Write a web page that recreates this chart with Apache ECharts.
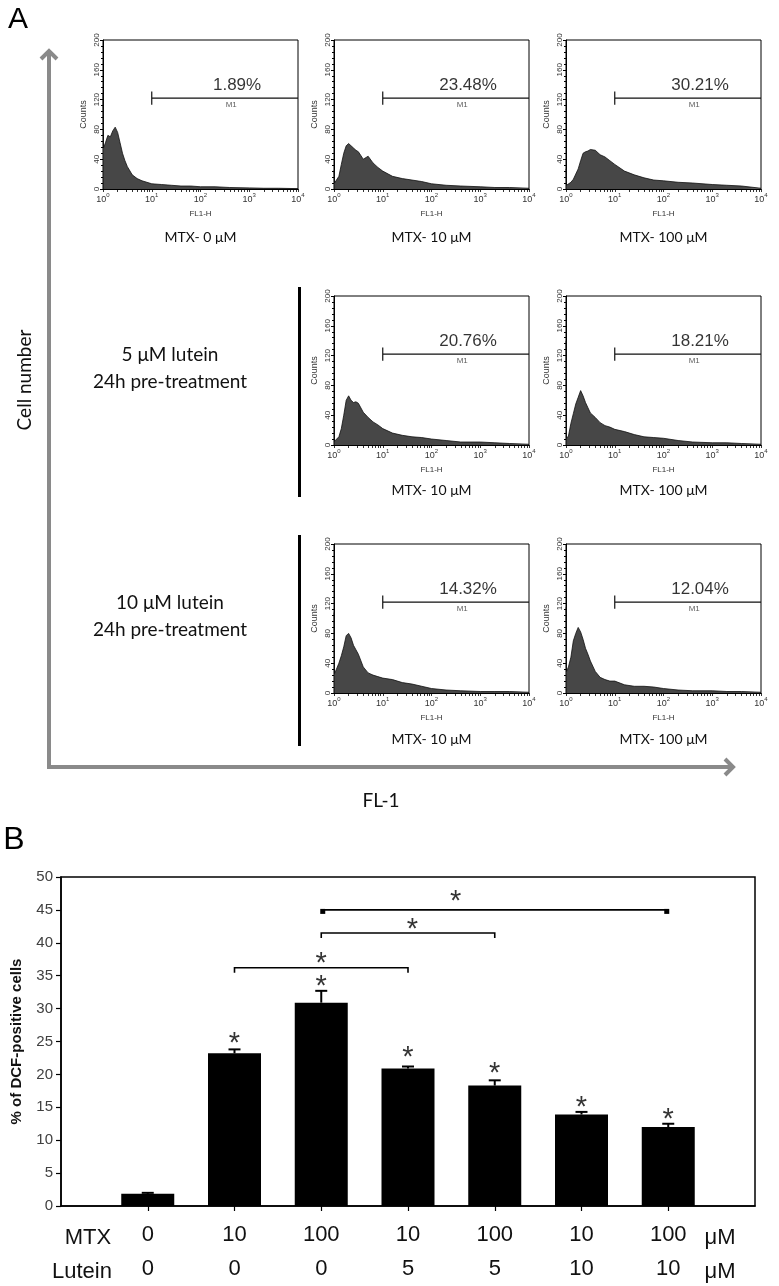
<!DOCTYPE html>
<html><head><meta charset="utf-8">
<script src="https://cdn.jsdelivr.net/npm/echarts@6/dist/echarts.min.js"></script>
<style>html,body{margin:0;padding:0;background:#fff}#c{width:779px;height:1286px}</style>
</head><body><div id="c"></div>
<script>
// ---------- DATA ----------
// Panel A: flow cytometry histograms, x = log10(FL1-H), y = counts
const histChannels = [0, 0.01, 0.05, 0.1, 0.15, 0.2, 0.25, 0.3, 0.35, 0.4, 0.45, 0.5, 0.6, 0.7, 0.8, 0.9, 1.0, 1.2, 1.4, 1.6, 1.8, 2.0, 2.3, 2.6, 3.0, 3.3, 3.6, 4.0];
const histMTX0      = [128,55,62,72,70,78,83,76,62,48,38,30,19,14,11,9,7,6,5,4,4,3,3,2,1.5,1,1,0.5];
const histMTX10     = [25,8,10,17,33,48,58,61,58,55,52,50,40,44,35,29,24,17,14,12,10,7,5,4,3,2,2,1];
const histMTX100    = [27,5,5,9,13,20,27,38,48,50,51,53,52,46,43,38,33,24,19,15,12,11,9,8,6,5,4,1];
const histL5MTX10   = [55,5,5,11,22,40,60,66,60,57,58,56,44,37,31,27,22,16,13,11,10,8,6,4,4,3,2,1];
const histL5MTX100  = [140,9,12,29,42,55,64,73,66,57,50,43,37,30,26,24,21,18,14,11,10,9,6,4,3,3,2,1];
const histL10MTX10  = [108,26,32,40,50,62,77,80,74,64,58,52,35,27,24,22,20,18,14,12,9,6,4,3,2,2,2,1];
const histL10MTX100 = [115,29,35,48,70,80,88,82,72,60,52,43,29,21,18,16,16,11,9,9,8,6,4,3,3,2,2,1];
const histCaptions = ['MTX- 0 \u03bcM','MTX- 10 \u03bcM','MTX- 100 \u03bcM','MTX- 10 \u03bcM','MTX- 100 \u03bcM','MTX- 10 \u03bcM','MTX- 100 \u03bcM'];
const histPercents = ['1.89%','23.48%','30.21%','20.76%','18.21%','14.32%','12.04%'];
const gateFrom = 1, gateTo = 4, gateLevel = 122;

// Panel B: bar chart
const mtxLabels    = ['0','10','100','10','100','10','100'];
const luteinLabels = ['0','0','0','5','5','10','10'];
const barValues = [1.85, 23.2, 30.9, 20.9, 18.3, 13.9, 12.0];
const barErrors = [0.15, 0.6, 1.8, 0.3, 0.8, 0.4, 0.5];
const starX = [2, 3, 4, 5, 6, 7, 3, 4.05, 4.55];
const starY = [25.7, 34.4, 23.5, 21.1, 16.0, 14.2, 37.8, 43.0, 47.2];
const bracketFrom  = [2, 3, 3];
const bracketTo    = [4, 5, 7];
const bracketLevel = [36.2, 41.5, 45.0];
const yTicksB = [0, 50, 5]; // min, max, step

// ---------- LAYOUT ----------
const histGrids = [
  {left:103, top:40}, {left:334, top:40}, {left:566, top:40},
  {left:334, top:296}, {left:566, top:296},
  {left:334, top:544}, {left:566, top:544}];
const HW = 195, HH = 149;
const captionY = [237, 237, 237, 490, 490, 739, 739];
const histCounts = [histMTX0, histMTX10, histMTX100, histL5MTX10, histL5MTX100, histL10MTX10, histL10MTX100];

const chart = echarts.init(document.getElementById('c'), null, {renderer:'canvas'});
const grids = [], xAxes = [], yAxes = [], series = [], graphics = [];
const logTicks = [];
for (let d = 0; d < 4; d++) for (let k = 1; k < 10; k++) logTicks.push(d + Math.log10(k));
logTicks.push(4);
const sans = 'Liberation Sans, Arial, sans-serif';
const cal = 'Lato, "Open Sans", sans-serif';
const narrow = 'Liberation Sans Narrow, Liberation Sans, sans-serif';

histGrids.forEach((g, i) => {
  grids.push({left:g.left, top:g.top, width:HW, height:HH, show:true, borderColor:'#000', borderWidth:1, backgroundColor:'rgba(0,0,0,0)'});
  xAxes.push({gridIndex:i, type:'value', min:0, max:4, interval:1,
    axisLine:{show:true, onZero:false, lineStyle:{color:'#000', width:1}},
    axisTick:{show:true, length:3, customValues:logTicks, lineStyle:{color:'#000', width:0.8}},
    splitLine:{show:false},
    axisLabel:{margin:3, color:'#333', fontFamily:sans, formatter: v => '{b|10}{s|' + v + '}',
      rich:{b:{fontSize:9, color:'#333', fontFamily:sans, verticalAlign:'bottom', lineHeight:12}, s:{fontSize:6, color:'#333', fontFamily:sans, verticalAlign:'top', lineHeight:12}}},
    name:'FL1-H', nameLocation:'middle', nameGap:21, nameTextStyle:{fontSize:8, color:'#333', fontFamily:sans}});
  yAxes.push({gridIndex:i, type:'value', min:0, max:200, interval:40,
    axisLine:{show:true, lineStyle:{color:'#000', width:1}},
    axisTick:{show:true, length:3, lineStyle:{color:'#000'}},
    minorTick:{show:true, splitNumber:5, length:2, lineStyle:{color:'#000'}},
    splitLine:{show:false},
    axisLabel:{rotate:90, margin:2, fontSize:8, color:'#333', fontFamily:sans},
    name:'Counts', nameLocation:'middle', nameGap:15, nameTextStyle:{fontSize:9, color:'#333', fontFamily:sans}});
  series.push({type:'line', xAxisIndex:i, yAxisIndex:i, data: histChannels.map((c, j) => [c, histCounts[i][j]]),
    symbol:'none', lineStyle:{color:'#111', width:0.8}, areaStyle:{color:'#474747', opacity:1}, silent:true, z:2});
  series.push({type:'line', xAxisIndex:i, yAxisIndex:i,
    data:[[gateFrom, gateLevel - 9], [gateFrom, gateLevel + 9], [gateFrom, gateLevel], [gateTo, gateLevel]],
    symbol:'none', lineStyle:{color:'#111', width:1.2}, silent:true, z:3});
  series.push({type:'scatter', xAxisIndex:i, yAxisIndex:i, symbolSize:0, silent:true, z:4,
    data:[{value:[2.75, gateLevel], label:{show:true, position:'top', distance:4, formatter:histPercents[i], fontSize:17, color:'#000', fontFamily:sans}},
          {value:[2.63, gateLevel], label:{show:true, position:'bottom', distance:3, formatter:'M1', fontSize:8, color:'#333', fontFamily:sans}}]});
  graphics.push({type:'text', x:g.left + HW / 2, y:captionY[i], style:{text:histCaptions[i], fontSize:14, fontFamily:cal, fill:'#111', align:'center', verticalAlign:'middle'}});
});

// ---------- Panel B ----------
const B = 7;
const cats = mtxLabels.map((_, i) => i + 1);
grids.push({left:61, top:877, width:694, height:332, show:true, borderColor:'#000', borderWidth:1.5, backgroundColor:'rgba(0,0,0,0)'});
xAxes.push({gridIndex:B, type:'value', min:0, max:8,
  axisLine:{show:true, onZero:false, lineStyle:{color:'#000', width:1.5}},
  axisTick:{show:true, customValues:cats, length:5, lineStyle:{color:'#000', width:1.2}},
  splitLine:{show:false},
  axisLabel:{customValues:cats, margin:12, fontSize:22, lineHeight:34, color:'#111', fontFamily:narrow,
    formatter: v => mtxLabels[v - 1] + '\n' + luteinLabels[v - 1]}});
yAxes.push({gridIndex:B, type:'value', min:yTicksB[0], max:yTicksB[1], interval:yTicksB[2],
  axisLine:{show:true, lineStyle:{color:'#000', width:1.5}},
  axisTick:{show:true, length:5, lineStyle:{color:'#000', width:1.2}},
  splitLine:{show:false},
  axisLabel:{margin:8, fontSize:15, color:'#404040', fontFamily:sans},
  name:'% of DCF-positive cells', nameLocation:'middle', nameGap:37,
  nameTextStyle:{fontSize:15, fontWeight:'bold', color:'#111', fontFamily:sans}});
series.push({type:'bar', xAxisIndex:B, yAxisIndex:B, data: barValues.map((v, i) => [i + 1, v]), barWidth:53, itemStyle:{color:'#000'}, silent:true, z:2});
series.push({type:'custom', xAxisIndex:B, yAxisIndex:B, silent:true, z:3,
  data: barValues.map((v, i) => [i + 1, v, v + barErrors[i]]),
  renderItem: (params, api) => {
    const p0 = api.coord([api.value(0), api.value(1)]);
    const p1 = api.coord([api.value(0), api.value(2)]);
    return {type:'group', children:[
      {type:'line', shape:{x1:p0[0], y1:p0[1], x2:p1[0], y2:p1[1]}, style:{stroke:'#000', lineWidth:2}},
      {type:'line', shape:{x1:p1[0] - 6, y1:p1[1], x2:p1[0] + 6, y2:p1[1]}, style:{stroke:'#000', lineWidth:2}}]};
  }});
series.push({type:'custom', xAxisIndex:B, yAxisIndex:B, silent:true, z:3,
  data: bracketFrom.map((f, i) => [f, bracketTo[i], bracketLevel[i], i]),
  renderItem: (params, api) => {
    const a = api.coord([api.value(0), api.value(2)]);
    const b = api.coord([api.value(1), api.value(2)]);
    const block = api.value(3) === 2;
    const kids = [{type:'polyline', shape:{points: block ? [[a[0], a[1]], [b[0], b[1]]] : [[a[0], a[1] + 5], [a[0], a[1]], [b[0], b[1]], [b[0], b[1] + 5]]}, style:{stroke:'#000', lineWidth:1.6, fill:null}}];
    if (block) {
      kids.push({type:'rect', shape:{x:a[0] - 1, y:a[1] - 1, width:5, height:5}, style:{fill:'#000'}});
      kids.push({type:'rect', shape:{x:b[0] - 4, y:b[1] - 1, width:5, height:5}, style:{fill:'#000'}});
    }
    return {type:'group', children:kids};
  }});
series.push({type:'scatter', xAxisIndex:B, yAxisIndex:B, symbolSize:0, silent:true, z:4,
  data: starX.map((x, i) => [x, starY[i]]),
  label:{show:true, position:'inside', formatter:'*', fontSize:29, color:'#000', fontFamily:sans, offset:[0, 7]}});

// ---------- annotations ----------
const gray = '#8a8a8a';
graphics.push(
  {type:'text', x:18, y:20, style:{text:'A', fontSize:30, fontFamily:sans, fill:'#000', align:'center', verticalAlign:'middle'}},
  {type:'text', x:14, y:840, style:{text:'B', fontSize:32, fontFamily:sans, fill:'#000', align:'center', verticalAlign:'middle'}},
  {type:'polyline', shape:{points:[[49, 769], [49, 51]]}, style:{stroke:gray, lineWidth:4}},
  {type:'polyline', shape:{points:[[41, 59], [49, 51], [57, 59]]}, style:{stroke:gray, lineWidth:4, fill:null, lineJoin:'miter'}},
  {type:'polyline', shape:{points:[[47, 767], [733, 767]]}, style:{stroke:gray, lineWidth:4}},
  {type:'polyline', shape:{points:[[725, 759], [733, 767], [725, 775]]}, style:{stroke:gray, lineWidth:4, fill:null, lineJoin:'miter'}},
  {type:'text', x:25, y:380, rotation:Math.PI / 2, style:{text:'Cell number', fontSize:19, fontFamily:cal, fill:'#111', align:'center', verticalAlign:'middle'}},
  {type:'text', x:381, y:801, style:{text:'FL-1', fontSize:19, fontFamily:cal, fill:'#111', align:'center', verticalAlign:'middle'}},
  {type:'text', x:170, y:355, style:{text:'5 \u03bcM lutein', fontSize:19, fontFamily:cal, fill:'#111', align:'center', verticalAlign:'middle'}},
  {type:'text', x:170, y:382, style:{text:'24h pre-treatment', fontSize:19, fontFamily:cal, fill:'#111', align:'center', verticalAlign:'middle'}},
  {type:'text', x:170, y:603, style:{text:'10 \u03bcM lutein', fontSize:19, fontFamily:cal, fill:'#111', align:'center', verticalAlign:'middle'}},
  {type:'text', x:170, y:630, style:{text:'24h pre-treatment', fontSize:19, fontFamily:cal, fill:'#111', align:'center', verticalAlign:'middle'}},
  {type:'rect', shape:{x:298, y:287, width:3, height:210}, style:{fill:'#000'}},
  {type:'rect', shape:{x:298, y:535, width:3, height:211}, style:{fill:'#000'}},
  {type:'text', x:88, y:1238, style:{text:'MTX', fontSize:22, fontFamily:narrow, fill:'#111', align:'center', verticalAlign:'middle'}},
  {type:'text', x:82, y:1272, style:{text:'Lutein', fontSize:22, fontFamily:narrow, fill:'#111', align:'center', verticalAlign:'middle'}},
  {type:'text', x:720, y:1238, style:{text:'\u03bcM', fontSize:22, fontFamily:narrow, fill:'#111', align:'center', verticalAlign:'middle'}},
  {type:'text', x:720, y:1272, style:{text:'\u03bcM', fontSize:22, fontFamily:narrow, fill:'#111', align:'center', verticalAlign:'middle'}}
);

chart.setOption({animation:false, backgroundColor:'#fff', grid:grids, xAxis:xAxes, yAxis:yAxes, series:series, graphic:graphics});
</script></body></html>
